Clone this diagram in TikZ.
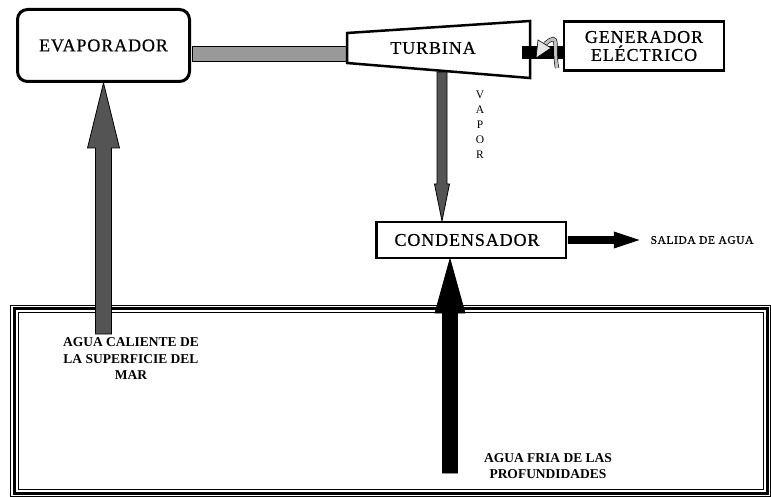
\documentclass[tikz,border=0pt]{standalone}
\usepackage{fontspec}
\setmainfont{Liberation Serif}
\newfontfamily\spacedfont[LetterSpace=5,FakeBold=0.6]{Liberation Serif}
\usetikzlibrary{calc}

\begin{document}
\begin{tikzpicture}[x=1pt,y=-1pt,semithick]
  \tikzstyle{box}=[draw,line width=2.5pt,fill=white,inner sep=0pt,
                   font=\spacedfont\fontsize{18}{18}\selectfont]
  \tikzstyle{caption}=[font=\bfseries\fontsize{13.5}{16.5}\selectfont,align=center]
  \tikzstyle{warm}=[draw=black,line width=0.8pt,fill=black!67]
  \tikzstyle{cold}=[draw=black,line width=0.8pt,fill=black]

  \useasboundingbox (0,0) rectangle (771,497);

  % the sea
  \draw[line width=1pt] (10.5,305) rectangle (770.5,496.5);
  \draw[line width=3pt] (14,308.5) rectangle (767,493);
  \draw[line width=1pt] (18,312.5) rectangle (763,489.5);

  \node[box,line width=3pt,rounded corners=10pt,minimum width=172pt,minimum height=72pt]
        (Evaporador)  at (103.5,45.5) {EVAPORADOR};
  \coordinate (TurbinaIn) at (347,53.5);
  \draw[fill=black!40,line width=0.6pt]
        ($(Evaporador.east)+(1.5,0.5)$) rectangle ($(TurbinaIn)+(1,7.5)$);
  \draw[line width=2.5pt,fill=white] (347,33) -- (530,21) -- (530,78) -- (347,63) -- cycle;
  \node[font=\spacedfont\fontsize{18}{18}\selectfont] (Turbina) at (433,48) {TURBINA};

  % shaft and rotation
  \fill (522,46.5) rectangle (566,59.5);
  \node[box,minimum width=160pt,minimum height=49pt,align=center]
        (Generador)   at (644,46) {GENERADOR\\ELÉCTRICO};
  \draw[double=black!25,double distance=3pt,line width=0.6pt]
        (557,68) .. controls (553,48) and (561,30) .. (545,44);
  \draw[fill=black!10,line width=0.6pt] (538,40) -- (551,48) -- (536,58) -- cycle;

  \node[box,minimum width=189.5pt,minimum height=35.5pt]
        (Condensador) at (471,240) {CONDENSADOR\hspace*{8pt}};

  % vapor
  \coordinate (VaporTip) at ($(Condensador.north)+(-29,0)$);
  \draw[warm] (VaporTip) -- ++(7.5,-37) -- ++(-2.5,0) -- ++(0,-112) -- ++(-10,0)
        -- ++(0,112) -- ++(-2.5,0) -- cycle;
  \node[font=\fontsize{11.5}{15}\selectfont,align=center] (Vapor) at (480,125) {V\\A\\P\\O\\R};

  % warm water up to the evaporator
  \draw[warm] (Evaporador.south) -- ++(16,65) -- ++(-8,0) -- ++(0,186) -- ++(-16,0)
        -- ++(0,-186) -- ++(-8,0) -- cycle;
  % cold water up to the condenser
  \draw[cold] ($(Condensador.south)+(-21,0)$) -- ++(15,54) -- ++(-7.5,0) -- ++(0,160)
        -- ++(-15,0) -- ++(0,-160) -- ++(-7.5,0) -- cycle;
  % water out
  \draw[cold] ($(Condensador.east)+(1.2,-3.5)$) -- ++(46,0) -- ++(0,-4.5) -- ++(24,8)
        -- ++(-24,8) -- ++(0,-4.5) -- ++(-46,0) -- cycle;

  \node[anchor=west,font=\spacedfont\fontsize{11.5}{12}\selectfont] (Salida) at (647,240) {SALIDA DE AGUA};
  \node[caption] (Caliente) at (131,359) {AGUA CALIENTE DE\\LA SUPERFICIE DEL\\MAR};
  \node[caption] (Fria)     at (548,466) {AGUA FRIA DE LAS\\PROFUNDIDADES};
\end{tikzpicture}
\end{document}
